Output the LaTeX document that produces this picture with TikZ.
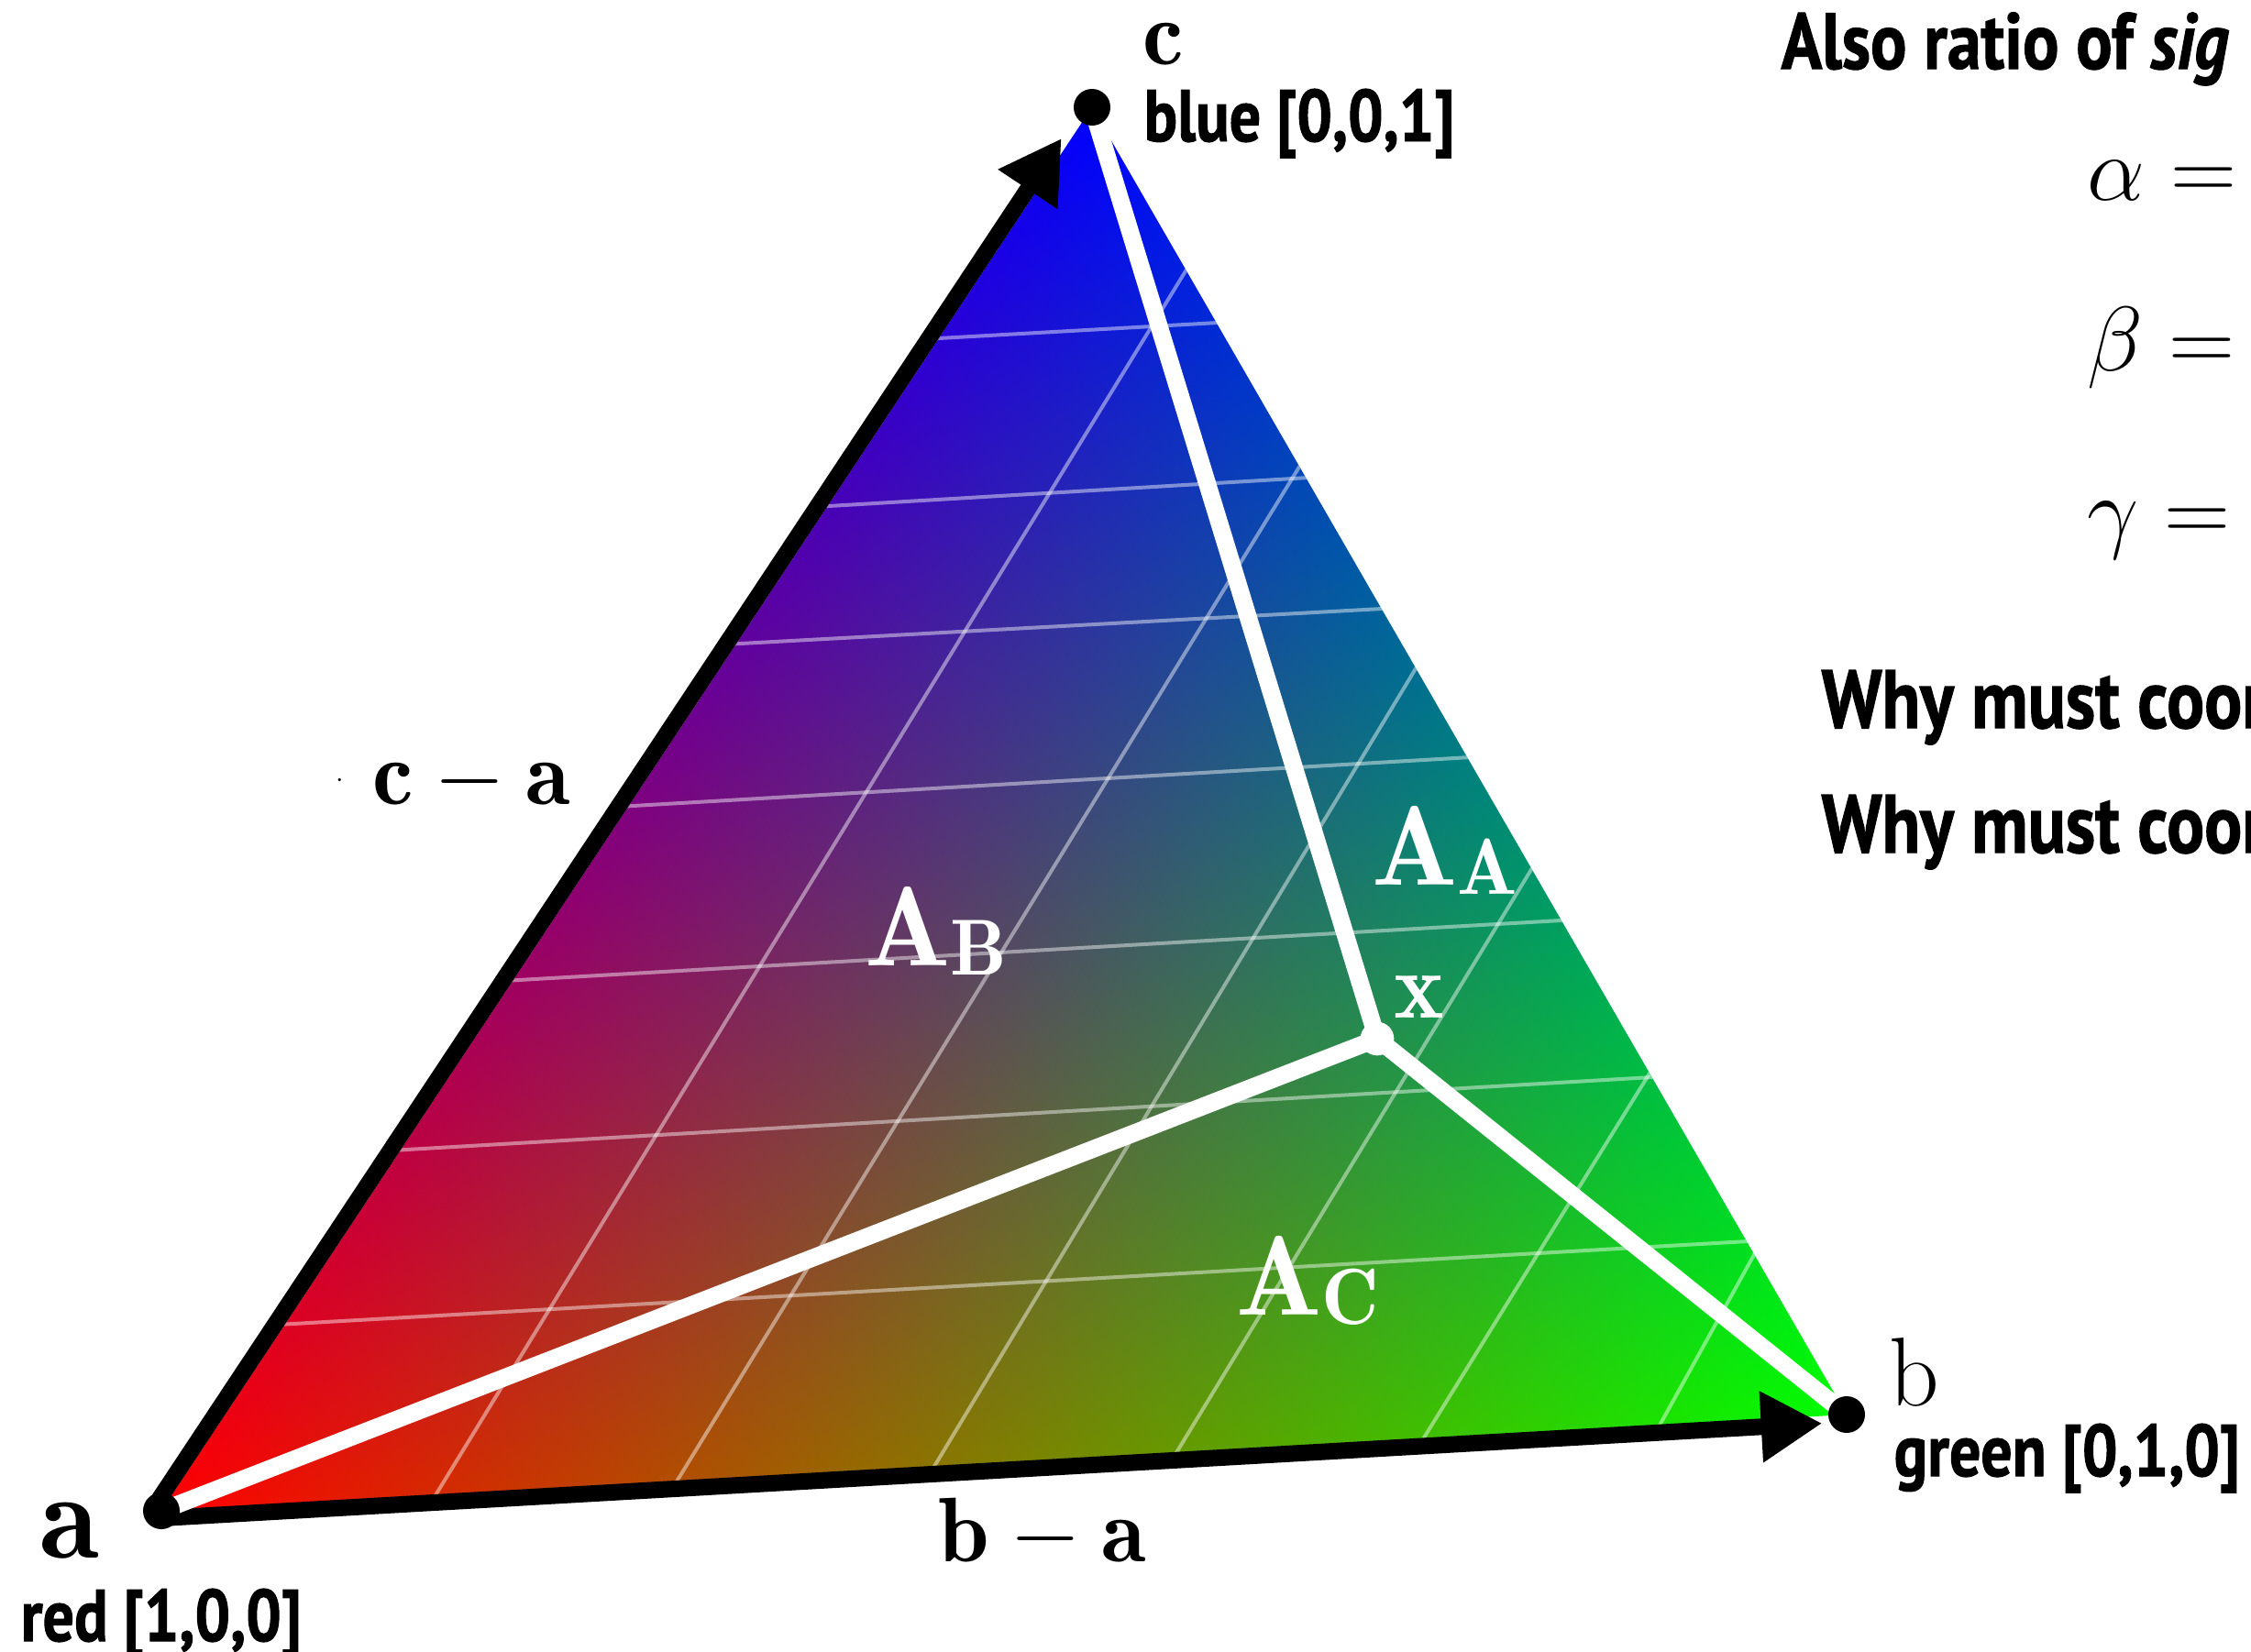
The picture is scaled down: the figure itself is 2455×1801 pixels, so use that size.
\RequirePackage{fix-cm}
\documentclass[tikz,border=0pt]{standalone}
\usepackage{fontspec}
\newfontfamily\condfont[FakeStretch=0.85, BoldFeatures={FakeBold=1.2}, BoldItalicFeatures={FakeBold=1.2}]{PT Sans}
\usetikzlibrary{arrows.meta, positioning, backgrounds}

% colour of a point = its barycentric weights (r,g,b)
\pgfdeclarefunctionalshading{bary}{\pgfpointorigin}{\pgfpoint{100bp}{100bp}}{}{
  25 sub exch 25 sub exch
  2 copy 27.612 mul exch 50 mul exch sub 2405.32 div
  3 1 roll
  50 mul exch 3.429 mul sub 2405.32 div
  2 copy add 1 exch sub
  3 1 roll
  dup 0 lt {pop 0} if dup 1 gt {pop 1} if 3 1 roll
  dup 0 lt {pop 0} if dup 1 gt {pop 1} if 3 1 roll
  dup 0 lt {pop 0} if dup 1 gt {pop 1} if 3 1 roll
}
% area symbol with a small, slightly lowered index
\newcommand{\areasym}[1]{$\mathbf{A}$\raisebox{-3pt}{\fontsize{26}{30}\selectfont$\mathbf{#1}$}}

\begin{document}
\begin{tikzpicture}[x=0.3pt, y=0.3pt,
    vdot/.style={circle, fill=black, inner sep=0pt, minimum size=12pt},
    xdot/.style={circle, fill=white, inner sep=0pt, minimum size=11pt},
    arr/.style={line width=5.4pt, -{Triangle[length=20pt, width=22pt]}},
    wire/.style={white, line width=5.7pt},
    gridl/.style={white, opacity=0.45, line width=1.2pt},
    tag/.style={anchor=base west, inner sep=0pt, font=\condfont\bfseries\fontsize{24}{28}\selectfont},
    sym/.style={anchor=base west, inner sep=0pt, font=\fontsize{30}{36}\selectfont},
    area/.style={sym, text=white, font=\fontsize{37}{44}\selectfont}]
  \useasboundingbox (0,0) rectangle (2455,-1801);
  % vertices and the point x
  \node[vdot] (a) at (176,-1648) {};
  \node[vdot] (b) at (2014,-1543) {};
  \node[vdot] (c) at (1191,-117) {};
  \node[xdot] (x) at (1502,-1133) {};
  \begin{scope}[on background layer]
    \begin{scope}
      \clip (a.center) -- (b.center) -- (c.center) -- cycle;
      \shade[shading=bary] (a.center) -- (b.center) -- (c.center) -- cycle;
      \foreach \lx/\ly/\rx/\ry in {1006/370/1346/351, 887/553/1444/520, 789/703/1526/663,
          673/880/1621/825, 548/1070/1720/1003, 426/1255/1819/1174, 302/1445/1924/1353,
          467/1644/1302/281, 730/1629/1427/493, 1009/1616/1552/716,
          1273/1601/1677/937, 1542/1586/1807/1158, 1801/1571/1920/1356}
        \draw[gridl] (\lx,-\ly) -- (\rx,-\ry);
    \end{scope}
    \draw[arr, shorten >=8pt] ([yshift=-2.4pt]a.center) -- ([yshift=-2.4pt]b.center);
    \draw[arr, shorten >=14pt] ([shift={(-2.25pt,1.5pt)}]a.center) -- ([shift={(-2.25pt,1.5pt)}]c.center);
    \draw[wire] (x.center) -- (a.center) (x.center) -- (b.center) (x.center) -- (c.center);
  \end{scope}
  % vertex labels
  \node[sym, font=\fontsize{40}{46}\selectfont] (la) at (43,-1699) {$\mathbf{a}$};
  \node[tag] (ta) at (22,-1790) {red [1,0,0]};
  \node[sym, font=\fontsize{32}{38}\selectfont] (lb) at (2060,-1533) {$\mathrm{b}$};
  \node[tag] (tb) at (2065,-1610) {green [0,1,0]};
  \node[sym] (lc) at (1246,-70) {$\mathbf{c}$};
  \node[tag] (tc) at (1247,-154) {blue [0,0,1]};
  % edge vectors
  \node[sym] (ba) at (1023,-1703) {$\mathbf{b}-\mathbf{a}$};
  \node[sym] (ca) at (366,-877) {\raisebox{5.6pt}{\fontsize{9}{9}\selectfont$\cdot$}\hspace{9.5pt}$\mathbf{c}-\mathbf{a}$};
  % sub-triangle areas
  \node[area] (areaA) at (1496,-965) {\areasym{A}};
  \node[area] (areaB) at (943,-1053) {\areasym{B}};
  \node[area] (areaC) at (1348,-1434) {\areasym{C}};
  \node[sym, text=white, font=\fontsize{31}{36}\selectfont] (lx) at (1520,-1110) {$\mathbf{x}$};
  % text on the right
  \node[tag, font=\condfont\bfseries\fontsize{26}{31}\selectfont] (ratio) at (1942,-75) {Also ratio of \textit{sig}};
  \node[sym] (alpha) at (2276,-218) {$\alpha =$};
  \node[sym] (beta) at ([yshift=-55.8pt]alpha.base west) {$\beta =$};
  \node[sym] (gamma) at ([yshift=-55.8pt]beta.base west) {$\gamma =$};
  \node[tag, font=\condfont\bfseries\fontsize{27}{32}\selectfont] (why1) at (1986,-794) {Why must coor};
  \node[tag, font=\condfont\bfseries\fontsize{27}{32}\selectfont] (why2) at ([yshift=-40.8pt]why1.base west) {Why must coor};
\end{tikzpicture}
\end{document}
